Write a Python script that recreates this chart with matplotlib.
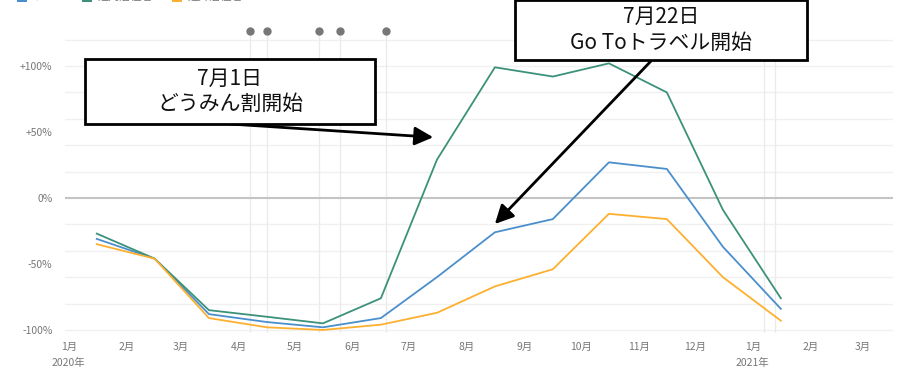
import numpy as np
import matplotlib
matplotlib.use("Agg")
import matplotlib.pyplot as plt
import matplotlib.dates as mdates
from matplotlib.patches import Rectangle
from datetime import datetime

plt.rcParams["font.family"] = ["Noto Sans CJK JP", "DejaVu Sans"]

# monthly points (mid-month), % change vs previous year
months = ["2020-01-16", "2020-02-16", "2020-03-16", "2020-04-16", "2020-05-16",
          "2020-06-16", "2020-07-16", "2020-08-16", "2020-09-16", "2020-10-16",
          "2020-11-16", "2020-12-16", "2021-01-16"]
total = [-31, -46, -88, -94, -98, -91, -60, -26, -16, 27, 22, -37, -84]
dounai = [-27, -46, -85, -90, -95, -76, 29, 99, 92, 102, 80, -9, -76]
dougai = [-35, -46, -91, -98, -100, -96, -87, -67, -54, -12, -16, -60, -93]
series_names = ["すべて", "道内居住者", "道外居住者"]
series_colors = ["#4a8fcc", "#3c917a", "#fdb02f"]

event_dates = ["2020-04-07", "2020-04-16", "2020-05-14", "2020-05-25", "2020-06-19"]
event_dates_2021 = ["2021-01-07", "2021-01-13"]

month_ticks = ["2020-01-01", "2020-02-01", "2020-03-01", "2020-04-01", "2020-05-01",
               "2020-06-01", "2020-07-01", "2020-08-01", "2020-09-01", "2020-10-01",
               "2020-11-01", "2020-12-01", "2021-01-01", "2021-02-01", "2021-03-01"]
month_labels = ["1月", "2月", "3月", "4月", "5月", "6月", "7月", "8月", "9月",
                "10月", "11月", "12月", "1月", "2月", "3月"]
year_labels = [("2020-01-01", "2020年"), ("2021-01-01", "2021年")]
yticks = [-100, -50, 0, 50, 100]
ytick_labels = ["-100%", "-50%", "0%", "+50%", "+100%"]
grid_values = [-100, -80, -60, -40, -20, 20, 40, 60, 80, 100, 120]


def d(s):
    return mdates.date2num(datetime.strptime(s, "%Y-%m-%d"))


W, H = 899, 368
fig = plt.figure(figsize=(W / 100, H / 100), dpi=100)


def fx(px):
    return px / W


def fy(py):
    return 1 - py / H


ax = fig.add_axes([fx(65), fy(332.6), fx(893) - fx(65), fy(26.4) - fy(332.6)])
ax.set_xlim(d("2019-12-30"), d("2021-03-17"))
ax.set_ylim(-102, 130)
for s in ax.spines.values():
    s.set_visible(False)

for g in grid_values:
    ax.axhline(g, color="#f0f0f0", lw=1, zorder=0)
ax.axhline(0, color="#c4c4c4", lw=1.5, zorder=1)

dot_y = 126.5
for e in event_dates + event_dates_2021:
    ax.plot([d(e), d(e)], [-102, dot_y], color="#ebebeb", lw=1, zorder=0.5)
for e in event_dates:
    ax.plot(d(e), dot_y, "o", color="#777777", ms=5, clip_on=False, zorder=3)

xs = [d(m) for m in months]
for vals, c in zip([total, dounai, dougai], series_colors):
    ax.plot(xs, vals, color=c, lw=1.3, zorder=2)

ax.set_xticks([d(m) for m in month_ticks])
ax.set_xticklabels(month_labels)
ax.set_yticks(yticks)
ax.set_yticklabels(ytick_labels)
ax.tick_params(axis="x", length=0, pad=7, labelsize=7.5, colors="#777777")
ax.tick_params(axis="y", length=0, pad=9, labelsize=7.5, colors="#777777")
for ds, lab in year_labels:
    ax.text(d(ds), -0.1, lab, transform=ax.get_xaxis_transform(), ha="center",
            va="center", fontsize=7.5, color="#777777")

# legend, mostly cut off at the top edge (as in the source image)
leg_x = [17, 82, 172]
for x0, name, c in zip(leg_x, series_names, series_colors):
    fig.patches.append(Rectangle((fx(x0), fy(2)), fx(10), 10 / H, transform=fig.transFigure,
                                 facecolor=c, edgecolor="none"))
    fig.text(fx(x0 + 16), fy(2), name, fontsize=8, color="#777777", ha="left", va="bottom")

# annotation boxes
boxes = [
    ((85, 59, 375, 124), "7月1日\nどうみん割開始", (230, 124), ("2020-07-14", 46)),
    ((515, 0, 807, 60), "7月22日\nGo Toトラベル開始", (652, 60), ("2020-08-16", -19.7)),
]
for (x0, y0, x1, y1), txt, start, (tdate, tval) in boxes:
    ax.annotate("", xy=(d(tdate), tval), xycoords="data",
                xytext=(fx(start[0]), fy(start[1])), textcoords="figure fraction",
                arrowprops=dict(arrowstyle="-|>,head_length=0.8,head_width=0.4",
                                mutation_scale=14, color="black", lw=2, shrinkA=0, shrinkB=0),
                annotation_clip=False, zorder=4)
    fig.patches.append(Rectangle((fx(x0), fy(y1)), fx(x1 - x0), (y1 - y0) / H,
                                 transform=fig.transFigure, facecolor="white",
                                 edgecolor="black", lw=2, zorder=5))
    fig.text(fx((x0 + x1) / 2), fy((y0 + y1) / 2), txt, fontsize=15, ha="center",
             va="center", linespacing=1.2, color="#111111", zorder=6)

fig.savefig("out.png", dpi=100)
